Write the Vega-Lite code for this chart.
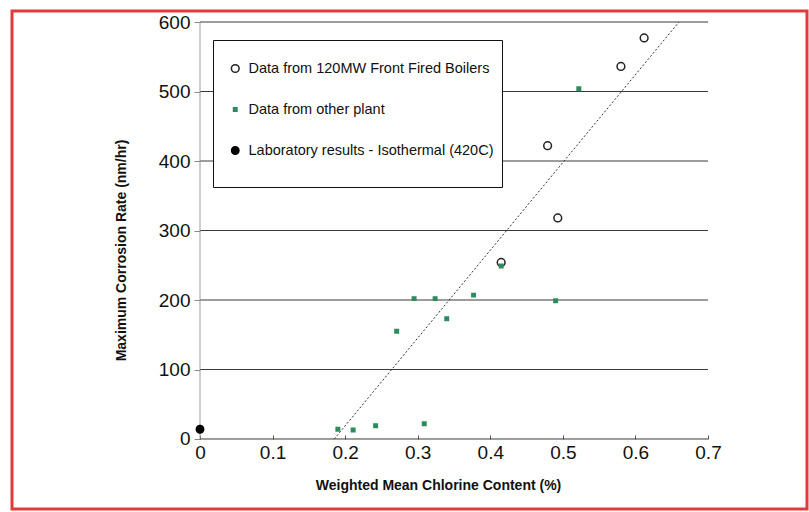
{
  "$schema": "https://vega.github.io/schema/vega-lite/v6.json",
  "width": 809,
  "height": 512,
  "autosize": {"type": "fit", "contains": "padding"},
  "padding": {"left": 12, "top": 11, "right": 2, "bottom": 3},
  "background": "white",
  "config": {
    "view": {"stroke": "#e03a3a", "strokeWidth": 3},
    "font": "Liberation Sans"
  },
  "encoding": {
    "x": {
      "field": "x", "type": "quantitative",
      "scale": {"domain": [-0.25906, 0.83642], "nice": false, "zero": false},
      "axis": {
        "title": "Weighted Mean Chlorine Content (%)",
        "values": [0, 0.1, 0.2, 0.3, 0.4, 0.5, 0.6, 0.7],
        "format": "~g",
        "offset": -70,
        "domain": false, "grid": false,
        "tickSize": -4, "tickColor": "#555",
        "labelFontSize": 19, "labelColor": "#111", "labelPadding": 8,
        "labelFont": "Liberation Sans",
        "titleFont": "Liberation Sans", "titleFontSize": 14, "titleFontWeight": "bold",
        "titleColor": "#111", "titleX": 426, "titlePadding": 16
      }
    },
    "y": {
      "field": "y", "type": "quantitative",
      "scale": {"domain": [-100.72, 615.83], "nice": false, "zero": false},
      "axis": {
        "title": "Maximum Corrosion Rate (nm/hr)",
        "values": [0, 100, 200, 300, 400, 500, 600],
        "offset": -188,
        "domain": false, "grid": false,
        "tickSize": 6, "tickColor": "#888",
        "labelFontSize": 19, "labelColor": "#111", "labelPadding": 4,
        "labelFont": "Liberation Sans",
        "titleFont": "Liberation Sans", "titleFontSize": 14, "titleFontWeight": "bold",
        "titleColor": "#111", "titlePadding": 30, "titleY": 239
      }
    }
  },
  "layer": [
    {
      "data": {"values": [
        {"y": 0, "x": 0, "x2": 0.7},
        {"y": 100, "x": 0, "x2": 0.7},
        {"y": 200, "x": 0, "x2": 0.7},
        {"y": 300, "x": 0, "x2": 0.7},
        {"y": 400, "x": 0, "x2": 0.7},
        {"y": 500, "x": 0, "x2": 0.7},
        {"y": 600, "x": 0, "x2": 0.7}
      ]},
      "mark": {"type": "rule", "color": "#3a3a3a", "strokeWidth": 1},
      "encoding": {
        "x2": {"field": "x2"}
      }
    },
    {
      "data": {"values": [{"x": 0, "y": 0, "y2": 600}]},
      "mark": {"type": "rule", "color": "#999", "strokeWidth": 1},
      "encoding": {
        "y2": {"field": "y2"}
      }
    },
    {
      "data": {"values": [{"x": 0.185, "y": 0}, {"x": 0.66, "y": 600}]},
      "mark": {"type": "line", "color": "#333", "strokeWidth": 1, "strokeDash": [2, 2]},
      "encoding": {}
    },
    {
      "data": {"values": [
        {"x": 0.612, "y": 577, "series": "Data from 120MW Front Fired Boilers"},
        {"x": 0.580, "y": 536, "series": "Data from 120MW Front Fired Boilers"},
        {"x": 0.479, "y": 422, "series": "Data from 120MW Front Fired Boilers"},
        {"x": 0.493, "y": 318, "series": "Data from 120MW Front Fired Boilers"},
        {"x": 0.415, "y": 254, "series": "Data from 120MW Front Fired Boilers"},
        {"x": 0.522, "y": 504, "series": "Data from other plant"},
        {"x": 0.190, "y": 14, "series": "Data from other plant"},
        {"x": 0.211, "y": 13, "series": "Data from other plant"},
        {"x": 0.242, "y": 19, "series": "Data from other plant"},
        {"x": 0.271, "y": 155, "series": "Data from other plant"},
        {"x": 0.295, "y": 202, "series": "Data from other plant"},
        {"x": 0.324, "y": 202, "series": "Data from other plant"},
        {"x": 0.340, "y": 173, "series": "Data from other plant"},
        {"x": 0.309, "y": 22, "series": "Data from other plant"},
        {"x": 0.377, "y": 207, "series": "Data from other plant"},
        {"x": 0.415, "y": 249, "series": "Data from other plant"},
        {"x": 0.490, "y": 199, "series": "Data from other plant"},
        {"x": 0.0, "y": 14, "series": "Laboratory results - Isothermal (420C)"}
      ]},
      "mark": {"type": "point", "filled": true, "opacity": 1, "strokeWidth": 1.5},
      "encoding": {
        "shape": {
          "field": "series", "type": "nominal",
          "scale": {
            "domain": ["Data from 120MW Front Fired Boilers", "Data from other plant", "Laboratory results - Isothermal (420C)"],
            "range": ["circle", "square", "circle"]
          },
          "legend": {
            "title": " ", "titleOrient": "bottom", "titleFontSize": 8, "titlePadding": 0,
            "orient": "none", "legendX": 201, "legendY": 29,
            "strokeColor": "#111", "fillColor": "white", "padding": 8,
            "clipHeight": 41, "rowPadding": 0,
            "symbolOffset": 7, "labelOffset": 6,
            "labelFontSize": 14.5, "labelFont": "Liberation Sans", "labelColor": "#111", "labelLimit": 400,
            "symbolStrokeWidth": 1.5,
            "encode": {"legend": {"update": {"strokeWidth": {"value": 1.5}}}}
          }
        },
        "fill": {
          "field": "series", "type": "nominal",
          "scale": {
            "domain": ["Data from 120MW Front Fired Boilers", "Data from other plant", "Laboratory results - Isothermal (420C)"],
            "range": ["transparent", "#2e8b5e", "#000000"]
          }
        },
        "stroke": {
          "field": "series", "type": "nominal",
          "scale": {
            "domain": ["Data from 120MW Front Fired Boilers", "Data from other plant", "Laboratory results - Isothermal (420C)"],
            "range": ["#222222", "#2e8b5e", "#000000"]
          }
        },
        "size": {
          "field": "series", "type": "nominal",
          "scale": {
            "type": "ordinal",
            "domain": ["Data from 120MW Front Fired Boilers", "Data from other plant", "Laboratory results - Isothermal (420C)"],
            "range": [60, 12, 55]
          }
        }
      }
    }
  ]
}
